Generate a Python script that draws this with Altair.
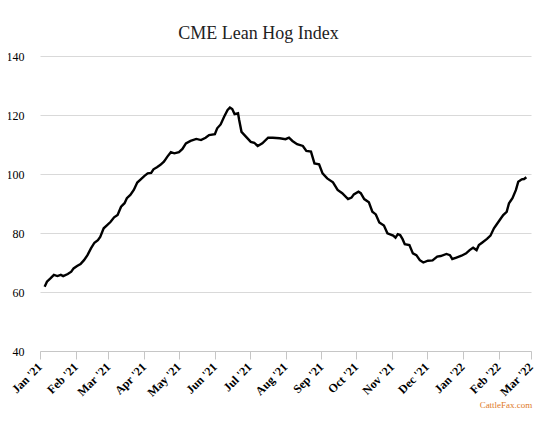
import altair as alt
import pandas as pd

dates = [
    "2021-01-05", "2021-01-07", "2021-01-10", "2021-01-13", "2021-01-16", "2021-01-19",
    "2021-01-21", "2021-01-25", "2021-01-28", "2021-01-30", "2021-02-02", "2021-02-05",
    "2021-02-08", "2021-02-11", "2021-02-14", "2021-02-17", "2021-02-20", "2021-02-22",
    "2021-02-25", "2021-02-28", "2021-03-03", "2021-03-06", "2021-03-09", "2021-03-12",
    "2021-03-15", "2021-03-17", "2021-03-20", "2021-03-23", "2021-03-26", "2021-03-29",
    "2021-04-01", "2021-04-04", "2021-04-07", "2021-04-09", "2021-04-12", "2021-04-15",
    "2021-04-18", "2021-04-21", "2021-04-24", "2021-04-27", "2021-05-01", "2021-05-04",
    "2021-05-07", "2021-05-11", "2021-05-16", "2021-05-20", "2021-05-24", "2021-05-27",
    "2021-06-01", "2021-06-03", "2021-06-06", "2021-06-09", "2021-06-12", "2021-06-14",
    "2021-06-16", "2021-06-18", "2021-06-21", "2021-06-22", "2021-06-24", "2021-06-28",
    "2021-07-02", "2021-07-05", "2021-07-08", "2021-07-12", "2021-07-17", "2021-07-21",
    "2021-07-27", "2021-08-01", "2021-08-04", "2021-08-07", "2021-08-11", "2021-08-16",
    "2021-08-19", "2021-08-23", "2021-08-26", "2021-08-30", "2021-09-02", "2021-09-06",
    "2021-09-11", "2021-09-15", "2021-09-19", "2021-09-24", "2021-09-27", "2021-09-29",
    "2021-10-03", "2021-10-05", "2021-10-08", "2021-10-12", "2021-10-15", "2021-10-18",
    "2021-10-21", "2021-10-25", "2021-10-28", "2021-11-02", "2021-11-04", "2021-11-06",
    "2021-11-08", "2021-11-10", "2021-11-12", "2021-11-16", "2021-11-19", "2021-11-22",
    "2021-11-25", "2021-11-28", "2021-12-02", "2021-12-06", "2021-12-10", "2021-12-13",
    "2021-12-18", "2021-12-21", "2021-12-23", "2021-12-26", "2021-12-31", "2022-01-04",
    "2022-01-07", "2022-01-10", "2022-01-13", "2022-01-15", "2022-01-18", "2022-01-22",
    "2022-01-25", "2022-01-28", "2022-01-30", "2022-02-02", "2022-02-05", "2022-02-08",
    "2022-02-10", "2022-02-13", "2022-02-16", "2022-02-18", "2022-02-21", "2022-02-23",
    "2022-02-25",
]

values = [
    61.8, 63.5, 64.6, 65.8, 65.4, 65.8,
    65.4, 66.1, 66.9, 68.0, 68.8, 69.5,
    70.8, 72.5, 74.8, 76.7, 77.6, 78.7,
    81.6, 82.7, 83.8, 85.3, 86.1, 88.9,
    90.1, 91.8, 92.9, 94.6, 97.1, 98.2,
    99.3, 100.2, 100.4, 101.6, 102.3, 103.1,
    104.2, 105.9, 107.4, 107.0, 107.4, 108.5,
    110.4, 111.2, 111.9, 111.5, 112.3, 113.2,
    113.5, 115.5, 116.8, 119.4, 121.7, 122.5,
    122.0, 120.3, 120.6, 118.3, 114.3, 112.6,
    110.9, 110.6, 109.5, 110.4, 112.3, 112.3,
    112.1, 111.8, 112.3, 111.2, 110.1, 109.5,
    107.8, 107.6, 103.6, 103.3, 100.2, 98.5,
    97.2, 94.6, 93.5, 91.5, 92.0, 93.1,
    94.0, 93.5, 91.5, 90.4, 87.2, 86.3,
    83.6, 82.5, 79.9, 79.1, 78.4, 79.6,
    79.3, 78.0, 76.2, 75.9, 73.1, 72.5,
    70.8, 70.0, 70.6, 70.7, 72.0, 72.2,
    72.9, 72.5, 71.2, 71.6, 72.3, 73.1,
    74.2, 75.0, 74.2, 75.9, 76.8, 78.0,
    79.1, 81.6, 82.7, 84.4, 86.1, 87.2,
    90.1, 91.8, 94.6, 97.4, 98.2, 98.3,
    98.9,
]

tick_dates = [
    "2021-01-01", "2021-02-01", "2021-03-01", "2021-04-01", "2021-05-01",
    "2021-06-01", "2021-07-01", "2021-08-01", "2021-09-01", "2021-10-01",
    "2021-11-01", "2021-12-01", "2022-01-01", "2022-02-01", "2022-03-01",
]
y_ticks = [40, 60, 80, 100, 120, 140]

title_text = "CME Lean Hog Index"
source_text = "CattleFax.com"

df = pd.DataFrame({"date": dates, "value": values})


def to_dt(s):
    return alt.DateTime(year=int(s[:4]), month=int(s[5:7]), date=int(s[8:10]), utc=True)


ticks = [to_dt(d) for d in tick_dates]

serif = "Liberation Serif"

line = alt.Chart(df).mark_line(color="black", strokeWidth=2.4).encode(
    x=alt.X(
        "date:T",
        scale=alt.Scale(type="utc", domain=[ticks[0], ticks[-1]]),
        axis=alt.Axis(
            values=ticks,
            format="%b '%y",
            title=None,
            labelAngle=-45,
            labelFont=serif,
            labelFontSize=12,
            labelFontWeight="bold",
            labelColor="#000000",
            labelOverlap=False,
            labelPadding=2,
            labelOffset=-4,
            domainColor="#c6c6c6",
            tickColor="#c6c6c6",
            tickSize=8,
            grid=False,
        ),
    ),
    y=alt.Y(
        "value:Q",
        scale=alt.Scale(domain=[40, 140], nice=False, zero=False),
        axis=alt.Axis(
            values=y_ticks,
            title=None,
            domain=False,
            ticks=False,
            labelFont=serif,
            labelFontSize=12,
            labelColor="#000000",
            labelPadding=16,
            gridColor="#d9d9d9",
            gridWidth=1,
        ),
    ),
)

src = alt.Chart(pd.DataFrame({"t": [source_text]})).mark_text(
    font=serif, fontSize=9, color="#e07a2a", align="center", baseline="middle"
).encode(text="t:N", x=alt.value(466), y=alt.value(349))

chart = alt.layer(line, src).properties(
    width=491,
    height=295,
    padding={"left": 32, "top": 48, "right": 5, "bottom": 62},
    autosize="none",
    background="white",
    title=alt.TitleParams(
        text=title_text,
        font=serif,
        fontSize=18,
        fontWeight="normal",
        color="#222222",
        anchor="middle",
        frame="group",
        dx=-27,
        dy=27,
        offset=20,
        baseline="alphabetic",
    ),
).configure_view(stroke=None)

chart.save("out.html", embed_options={"renderer": "svg", "actions": False})
